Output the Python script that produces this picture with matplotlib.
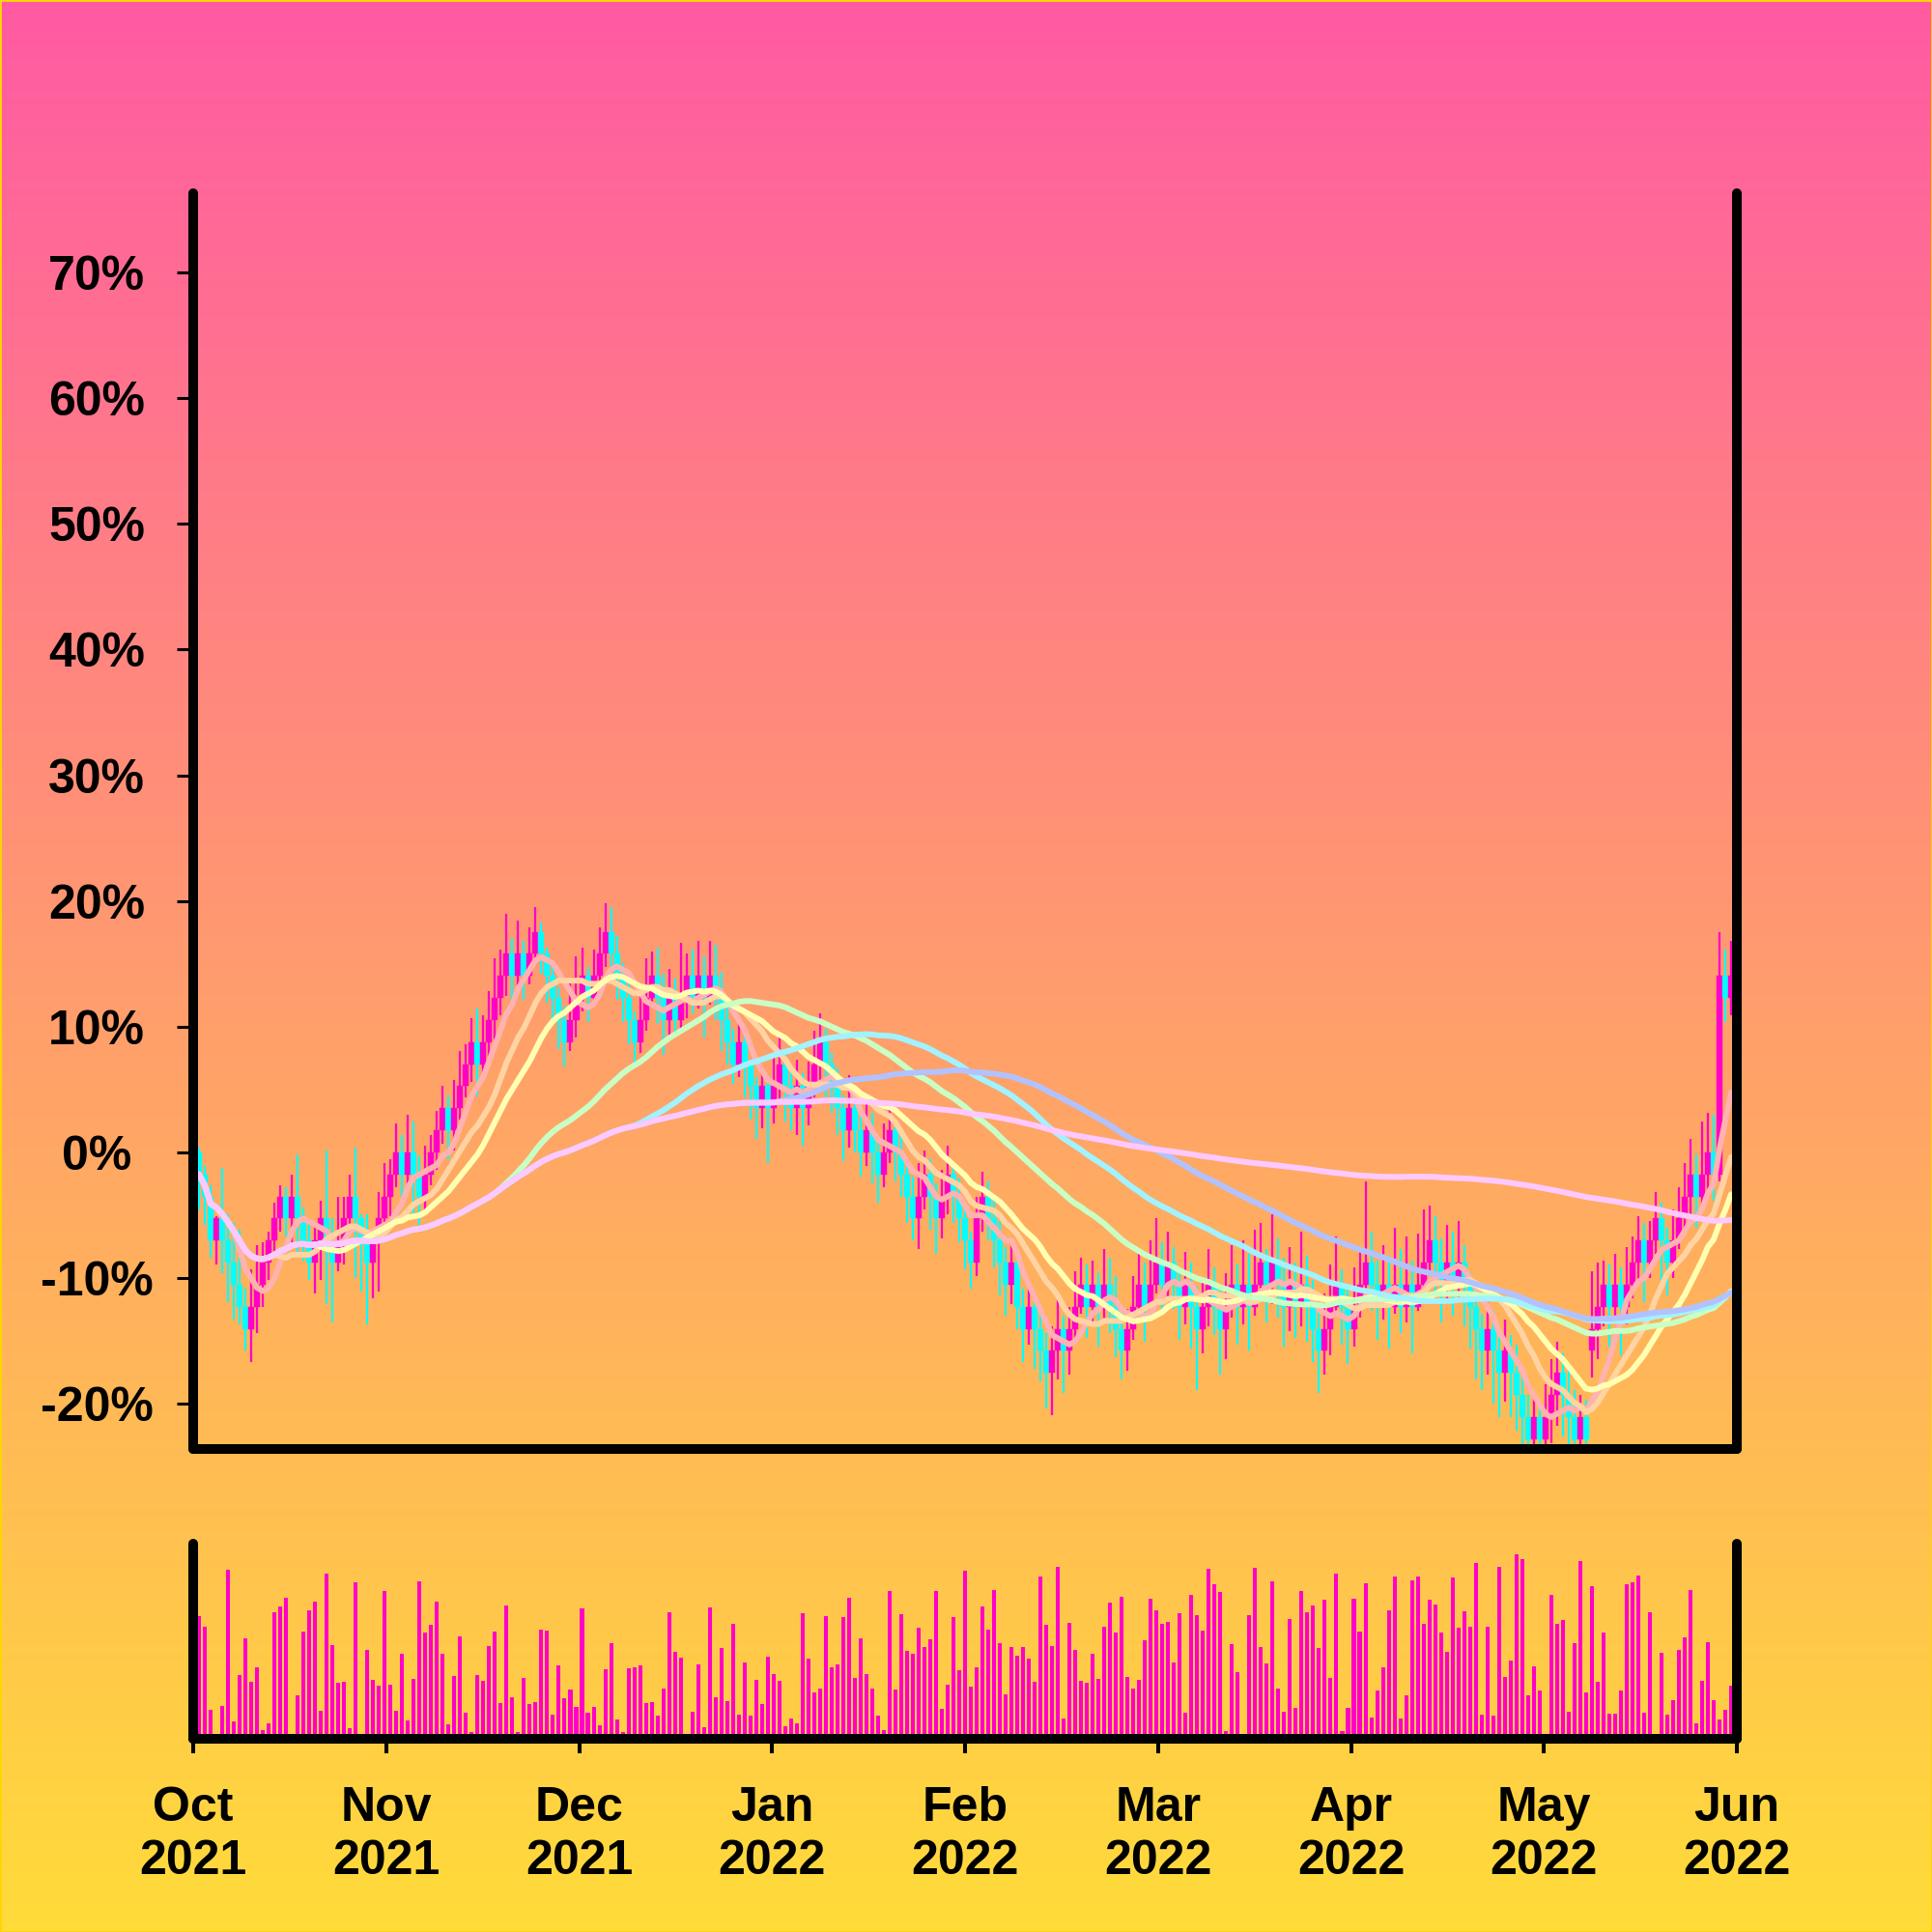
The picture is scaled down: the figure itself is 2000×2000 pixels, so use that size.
import numpy as np
import pandas as pd
import matplotlib
matplotlib.use("Agg")
import matplotlib.pyplot as plt
from matplotlib.colors import LinearSegmentedColormap
from matplotlib.patches import Rectangle

# prices move in ticks of 1/57 of the first open, so one level = 100/57 %
STEP = 100 / 57

open_lvl = [
    0, -1, -2, -4, -3, -4, -5, -6, -7, -8,
    -7, -6, -5, -4, -3, -2, -3, -2, -3, -4,
    -5, -4, -3, -4, -5, -4, -3, -2, -3, -4,
    -5, -4, -3, -2, -1, 0, -1, 0, -1, -2,
    -1, 0, 1, 2, 1, 2, 3, 4, 5, 4,
    5, 6, 7, 8, 9, 8, 9, 8, 9, 10,
    9, 8, 7, 6, 5, 6, 7, 8, 7, 8,
    9, 10, 9, 8, 7, 6, 5, 6, 7, 8,
    7, 6, 7, 6, 7, 8, 7, 8, 7, 8,
    7, 6, 5, 4, 5, 4, 3, 2, 3, 2,
    3, 4, 3, 2, 3, 2, 3, 4, 5, 4,
    3, 2, 1, 2, 1, 0, 1, 0, -1, 0,
    1, 0, -1, -2, -3, -2, -1, -2, -3, -2,
    -1, -2, -3, -4, -5, -3, -2, -3, -4, -5,
    -6, -5, -7, -8, -7, -8, -9, -10, -9, -8,
    -9, -8, -7, -6, -7, -6, -7, -6, -7, -8,
    -9, -8, -7, -6, -7, -6, -5, -6, -5, -6,
    -7, -6, -7, -8, -7, -6, -7, -8, -7, -6,
    -7, -6, -7, -6, -5, -6, -5, -6, -7, -6,
    -7, -6, -7, -8, -9, -8, -7, -6, -7, -8,
    -7, -6, -5, -6, -7, -6, -7, -6, -7, -6,
    -7, -6, -5, -4, -5, -6, -5, -6, -5, -6,
    -7, -8, -9, -8, -9, -10, -9, -10, -11, -12,
    -13, -12, -13, -12, -11, -10, -11, -12, -13, -12,
    -9, -8, -7, -6, -7, -6, -7, -6, -5, -4,
    -5, -4, -3, -4, -5, -4, -3, -2, -1, -2,
    -1, 0, -1, 8, 7,
]
close_lvl = [
    -1, -2, -4, -3, -4, -5, -6, -7, -8, -7,
    -6, -5, -4, -3, -2, -3, -2, -3, -4, -5,
    -4, -3, -4, -5, -4, -3, -2, -3, -4, -5,
    -4, -3, -2, -1, 0, -1, 0, -1, -2, -1,
    0, 1, 2, 1, 2, 3, 4, 5, 4, 5,
    6, 7, 8, 9, 8, 9, 8, 9, 10, 9,
    8, 7, 6, 5, 6, 7, 8, 7, 8, 9,
    10, 9, 8, 7, 6, 5, 6, 7, 8, 7,
    6, 7, 6, 7, 8, 7, 8, 7, 8, 7,
    6, 5, 4, 5, 4, 3, 2, 3, 2, 3,
    4, 3, 2, 3, 2, 3, 4, 5, 4, 3,
    2, 1, 2, 1, 0, 1, 0, -1, 0, 1,
    0, -1, -2, -3, -2, -1, -2, -3, -2, -1,
    -2, -3, -4, -5, -3, -2, -3, -4, -5, -6,
    -5, -7, -8, -7, -8, -9, -10, -9, -8, -9,
    -8, -7, -6, -7, -6, -7, -6, -7, -8, -9,
    -8, -7, -6, -7, -6, -5, -6, -5, -6, -7,
    -6, -7, -8, -7, -6, -7, -8, -7, -6, -7,
    -6, -7, -6, -5, -6, -5, -6, -7, -6, -7,
    -6, -7, -8, -9, -8, -7, -6, -7, -8, -7,
    -6, -5, -6, -7, -6, -7, -6, -7, -6, -7,
    -6, -5, -4, -5, -6, -5, -6, -5, -6, -7,
    -8, -9, -8, -9, -10, -9, -10, -11, -12, -13,
    -12, -13, -12, -11, -10, -11, -12, -13, -12, -13,
    -8, -7, -6, -7, -6, -7, -6, -5, -4, -5,
    -4, -3, -4, -5, -4, -3, -2, -1, -2, -1,
    0, -1, 8, 7, 8,
]
high_lvl = [
    0.2, -0.6, -1.5, -2.9, -0.7, -2.8, -3.2, -3.5, -6.2, -5.3,
    -4.2, -4.1, -3.6, -2.3, -1.5, -1.6, -1.0, -0.1, -2.5, -3.1,
    -3.3, -2.2, 0.1, -3.0, -2.0, -2.0, -1.0, 0.2, -2.8, -2.8,
    -3.6, -1.8, -0.5, -0.3, 1.3, 0.8, 1.7, 1.4, -0.2, 0.3,
    0.8, 1.9, 3.0, 2.6, 3.3, 4.6, 4.9, 6.1, 6.5, 6.2,
    7.3, 8.8, 9.2, 10.8, 9.7, 10.5, 9.6, 10.2, 11.1, 10.4,
    9.3, 8.5, 7.5, 6.6, 7.7, 8.9, 9.3, 8.4, 9.2, 10.2,
    11.3, 11.1, 9.8, 8.6, 7.6, 6.4, 7.4, 8.8, 9.1, 9.3,
    8.1, 8.3, 7.9, 9.5, 9.0, 9.2, 9.6, 8.9, 9.6, 9.4,
    8.2, 6.7, 5.6, 6.0, 5.7, 4.2, 3.4, 3.9, 3.5, 4.5,
    5.3, 4.6, 3.7, 4.2, 3.6, 4.1, 5.5, 6.3, 5.6, 4.5,
    3.8, 2.6, 3.5, 2.9, 1.6, 2.5, 1.8, 0.6, 1.3, 2.2,
    1.4, 0.9, -0.4, -1.1, -0.5, 0.1, -0.3, -1.4, -0.8, 0.3,
    -0.5, -1.2, -2.5, -3.6, -2.0, -0.9, -1.3, -2.2, -3.1, -4.3,
    -4.0, -4.4, -6.2, -5.8, -6.5, -7.1, -8.2, -7.9, -6.6, -7.4,
    -7.0, -5.4, -4.8, -5.1, -4.9, -5.5, -4.4, -4.8, -5.6, -7.2,
    -7.1, -5.6, -4.5, -5.0, -4.0, -3.0, -4.1, -3.6, -4.3, -5.2,
    -4.5, -5.0, -6.1, -5.8, -4.4, -5.2, -6.2, -5.5, -4.2, -5.1,
    -4.0, -4.6, -3.5, -3.2, -4.4, -2.8, -3.9, -4.8, -4.3, -5.0,
    -3.6, -4.7, -5.8, -6.9, -6.4, -5.1, -3.8, -5.3, -6.0, -5.2,
    -4.3, -1.3, -3.6, -4.9, -4.2, -4.7, -3.4, -4.4, -3.8, -4.9,
    -3.7, -2.6, -2.4, -2.9, -3.9, -3.3, -3.6, -3.1, -4.2, -5.5,
    -6.1, -7.3, -6.8, -7.2, -8.1, -7.6, -8.3, -8.7, -9.9, -11.0,
    -11.0, -11.3, -10.5, -9.4, -8.6, -9.1, -9.8, -10.8, -11.0, -11.2,
    -5.4, -5.0, -4.9, -5.1, -4.6, -5.2, -4.3, -3.8, -2.9, -3.2,
    -3.1, -1.8, -2.3, -3.4, -2.6, -1.6, -0.5, 0.6, -0.1, 1.4,
    1.8, 1.7, 10.0, 9.2, 9.6,
]
low_lvl = [
    -2.6, -3.3, -4.8, -5.1, -5.5, -6.8, -7.6, -7.8, -9.0, -9.5,
    -8.2, -7.0, -5.8, -4.5, -3.6, -3.8, -4.1, -4.5, -4.9, -5.8,
    -6.4, -5.8, -6.9, -7.7, -5.4, -5.1, -3.5, -5.7, -6.3, -7.8,
    -6.6, -6.3, -4.1, -2.9, -1.6, -2.0, -1.4, -3.0, -3.3, -2.7,
    -1.5, -0.8, 0.4, -0.3, 0.1, 1.5, 2.5, 3.2, 2.6, 3.4,
    4.3, 5.1, 6.2, 7.1, 6.6, 7.4, 6.9, 7.6, 8.5, 8.1,
    6.8, 5.8, 4.7, 3.9, 4.6, 5.2, 6.4, 5.9, 6.7, 7.3,
    8.4, 8.2, 6.9, 5.9, 4.9, 3.8, 4.5, 5.5, 6.6, 5.8,
    4.4, 5.1, 5.3, 5.6, 6.1, 6.3, 6.5, 5.2, 6.7, 6.0,
    4.6, 4.0, 3.1, 3.4, 2.5, 1.5, 0.6, 1.1, -0.5, 1.3,
    2.2, 1.4, 1.0, 0.8, 0.3, 1.2, 2.5, 3.1, 2.5, 1.8,
    0.8, -0.4, 0.2, 0.0, -1.1, -0.6, -1.4, -2.3, -1.6, -0.5,
    -1.3, -2.0, -3.2, -4.0, -4.4, -2.6, -3.5, -4.6, -3.9, -2.8,
    -3.2, -4.1, -5.3, -6.2, -5.6, -3.6, -4.0, -5.2, -6.5, -7.4,
    -6.9, -8.0, -9.5, -8.7, -9.8, -10.4, -11.6, -11.9, -10.3, -10.9,
    -10.1, -8.6, -7.3, -8.4, -7.8, -8.8, -7.6, -8.2, -9.3, -10.3,
    -9.9, -8.5, -7.2, -8.6, -7.5, -6.4, -7.3, -6.8, -7.1, -8.5,
    -7.8, -8.9, -10.8, -9.1, -7.9, -8.3, -10.1, -9.4, -7.5, -8.7,
    -7.8, -9.0, -7.4, -6.6, -7.7, -6.9, -7.5, -8.8, -8.1, -8.4,
    -7.9, -8.6, -9.5, -10.9, -10.1, -9.2, -7.4, -8.7, -9.6, -8.8,
    -7.5, -6.4, -7.2, -8.5, -7.6, -8.9, -7.3, -8.2, -7.7, -9.1,
    -7.2, -6.5, -5.6, -6.3, -7.7, -6.9, -7.4, -6.8, -7.9, -8.9,
    -10.3, -10.8, -10.1, -11.4, -12.0, -11.3, -12.0, -12.6, -13.8, -14.6,
    -14.4, -14.7, -14.1, -13.2, -12.4, -12.9, -13.8, -14.6, -14.2, -14.5,
    -10.2, -9.4, -7.9, -8.8, -7.7, -9.2, -7.8, -6.6, -5.9, -6.8,
    -5.7, -4.6, -5.9, -6.5, -5.7, -4.4, -3.7, -2.8, -3.4, -2.5,
    -1.7, -2.2, -1.3, 5.9, 6.2,
]
volume = [
    127, 116, 30, 3, 34, 175, 18, 66, 104, 59,
    74, 9, 16, 131, 137, 146, 5, 45, 111, 133,
    142, 29, 171, 97, 58, 59, 11, 162, 4, 92,
    61, 55, 153, 56, 29, 88, 19, 62, 163, 110,
    118, 142, 88, 15, 65, 106, 27, 7, 66, 60,
    96, 111, 37, 138, 43, 7, 63, 36, 38, 113,
    112, 25, 76, 42, 51, 33, 135, 27, 33, 14,
    72, 99, 20, 7, 73, 74, 76, 37, 38, 24,
    52, 131, 90, 84, 3, 28, 77, 12, 136, 43,
    94, 39, 119, 25, 79, 24, 61, 36, 85, 67,
    60, 13, 21, 16, 130, 83, 48, 52, 127, 74,
    77, 126, 146, 63, 104, 67, 52, 24, 9, 153,
    51, 129, 91, 88, 115, 95, 103, 153, 31, 56,
    126, 71, 174, 54, 74, 137, 113, 154, 99, 46,
    95, 86, 95, 83, 59, 168, 118, 96, 178, 21,
    120, 92, 60, 58, 88, 62, 116, 141, 110, 147,
    64, 52, 61, 102, 145, 133, 119, 121, 79, 130,
    27, 149, 128, 112, 176, 160, 152, 8, 98, 69,
    3, 128, 177, 95, 78, 163, 52, 28, 124, 32,
    153, 131, 138, 94, 144, 63, 171, 8, 32, 145,
    111, 161, 22, 50, 74, 133, 168, 21, 45, 164,
    168, 119, 144, 139, 110, 90, 167, 115, 132, 116,
    182, 25, 116, 24, 178, 64, 81, 191, 186, 45,
    75, 50, 3, 149, 119, 123, 28, 99, 184, 48,
    158, 59, 110, 26, 26, 50, 160, 162, 169, 27,
    131, 3, 89, 25, 40, 92, 105, 154, 16, 60,
    100, 40, 20, 30, 55,
]

month_labels = ["Oct\n2021", "Nov\n2021", "Dec\n2021", "Jan\n2022", "Feb\n2022",
                "Mar\n2022", "Apr\n2022", "May\n2022", "Jun\n2022"]
y_ticks = [-20, -10, 0, 10, 20, 30, 40, 50, 60, 70]
ma_windows = [7, 14, 21, 50, 75, 100, 200]
ma_colors = ["#FFB2B0", "#FFD3A2", "#FFFFB2", "#C9FFC4", "#A2F2FF", "#B2C2FF", "#FFC9FF"]

UP = "#FF00C8"
DOWN = "#00FFFF"
FONT = ["Liberation Sans", "DejaVu Sans"]

df = pd.DataFrame({
    "open": np.array(open_lvl) * STEP,
    "close": np.array(close_lvl) * STEP,
    "high": np.array(high_lvl) * STEP,
    "low": np.array(low_lvl) * STEP,
    "volume": volume,
})
n = len(df)
x = np.arange(n)
up = df["close"] >= df["open"]
colors = np.where(up, UP, DOWN)

fig = plt.figure(figsize=(20, 20), dpi=100)

# gradient backdrop
bg = fig.add_axes([0, 0, 1, 1], zorder=-10)
grad = np.linspace(0, 1, 512)[:, None]
cmap = LinearSegmentedColormap.from_list("sunset", ["#FF5AA3", "#FFDC3A"])
bg.imshow(grad, aspect="auto", cmap=cmap, extent=[0, 1, 0, 1])
bg.axis("off")

ax = fig.add_axes([0.1, 0.25, 0.799, 0.65])
axv = fig.add_axes([0.1, 0.1, 0.799, 0.101])

for a in (ax, axv):
    a.set_facecolor("none")
    a.spines["top"].set_visible(False)
    for side in ("left", "right", "bottom"):
        sp = a.spines[side]
        sp.set_linewidth(7.2)
        sp.set_color("black")
        sp.set_capstyle("round")
        sp.set_zorder(5)
    a.set_xlim(-1, n)

# candles
body_lo = np.minimum(df["open"], df["close"])
body_h = (df["close"] - df["open"]).abs()
ax.vlines(x, df["low"], df["high"], colors=colors, linewidth=1.6, zorder=1)
ax.bar(x, body_h, bottom=body_lo, width=1.0, color=colors, edgecolor=colors,
       linewidth=0.3, zorder=2)

# moving averages
for w, c in zip(ma_windows, ma_colors):
    ma = df["close"].rolling(w, min_periods=1).mean()
    ax.plot(x, ma, color=c, linewidth=4.3, solid_capstyle="round", zorder=3)

ax.set_ylim(-23.6, 76.3)
ax.set_yticks(y_ticks)
ax.set_yticklabels([f"{t}%" for t in y_ticks])
ax.tick_params(axis="y", length=12, width=2.2, pad=60, direction="out")
ax.tick_params(axis="x", length=0, labelbottom=False)
for lbl in ax.get_yticklabels():
    lbl.set_fontsize(36)
    lbl.set_fontweight("bold")
    lbl.set_family(FONT)
    lbl.set_horizontalalignment("center")

# volume
axv.bar(x, df["volume"], width=0.67, color=UP, linewidth=0, zorder=2)
axv.set_ylim(0, 202)
axv.set_yticks([])
axv.set_xticks(np.linspace(-1, n, 9))
axv.set_xticklabels(month_labels)
axv.tick_params(axis="x", length=11, width=2.9, pad=24, direction="out")
for lbl in axv.get_xticklabels():
    lbl.set_fontsize(36)
    lbl.set_fontweight("bold")
    lbl.set_family(FONT)
    lbl.set_linespacing(1.25)

fig.add_artist(Rectangle((0, 0), 1, 1, transform=fig.transFigure, fill=False,
                         edgecolor="#FFD700", linewidth=2))

fig.savefig("out.png", dpi=100)
